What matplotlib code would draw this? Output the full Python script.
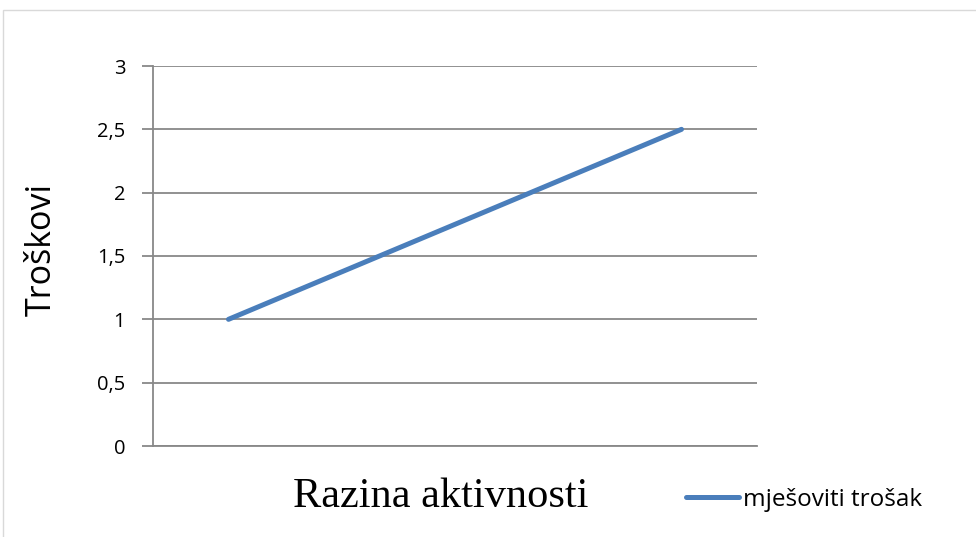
import matplotlib.pyplot as plt
from matplotlib.patches import Rectangle

plt.rcParams['font.family'] = ['Open Sans', 'DejaVu Sans']

categories = [1, 2, 3, 4]
mixed_cost = [1, 1.5, 2, 2.5]
y_ticks = [0, 0.5, 1, 1.5, 2, 2.5, 3]
y_labels = ['0', '0,5', '1', '1,5', '2', '2,5', '3']

fig = plt.figure(figsize=(9.76, 5.37), dpi=100)
ax = fig.add_axes([153/976, 1-446/537, 604/976, 380/537])

x = range(len(categories))
ax.plot(x, mixed_cost, color='#4A7EBB', lw=3.6, solid_capstyle='round',
        label='mješoviti trošak', zorder=3)

ax.set_xlim(-0.5, len(categories) - 0.5)
ax.set_ylim(0, 3)
ax.set_yticks(y_ticks)
ax.set_xticks([])
ax.tick_params(axis='y', length=8, width=1.3, color='#888888', pad=12)
ax.set_yticklabels(y_labels)
for lab in ax.get_yticklabels():
    lab.set_fontsize(14.5)
ax.grid(axis='y', color='#888888', lw=1.3)
ax.set_axisbelow(True)
for s in ['top', 'right']:
    ax.spines[s].set_visible(False)
ax.spines['left'].set_color('#888888')
ax.spines['bottom'].set_color('#888888')
ax.spines['left'].set_linewidth(1.3)
ax.spines['bottom'].set_linewidth(1.3)

fig.text(42/976, 1-249/537, 'Troškovi', rotation=90, ha='center', va='center',
         fontsize=24.5)
fig.text(441/976, 1-497/537, 'Razina aktivnosti', ha='center', va='center',
         fontsize=30.5, family='Liberation Serif')

ax.legend(loc='center left', bbox_to_anchor=(664/976, 1-500/537),
          bbox_transform=fig.transFigure, frameon=False, handlelength=2.2,
          handletextpad=0.15, prop={'size': 17.5})

fig.patches.append(Rectangle((3/976, -0.01), 1.1, 1-10/537 + 0.01,
                             transform=fig.transFigure, fill=False,
                             edgecolor='#d9d9d9', lw=1))

fig.savefig('out.png', dpi=100)
